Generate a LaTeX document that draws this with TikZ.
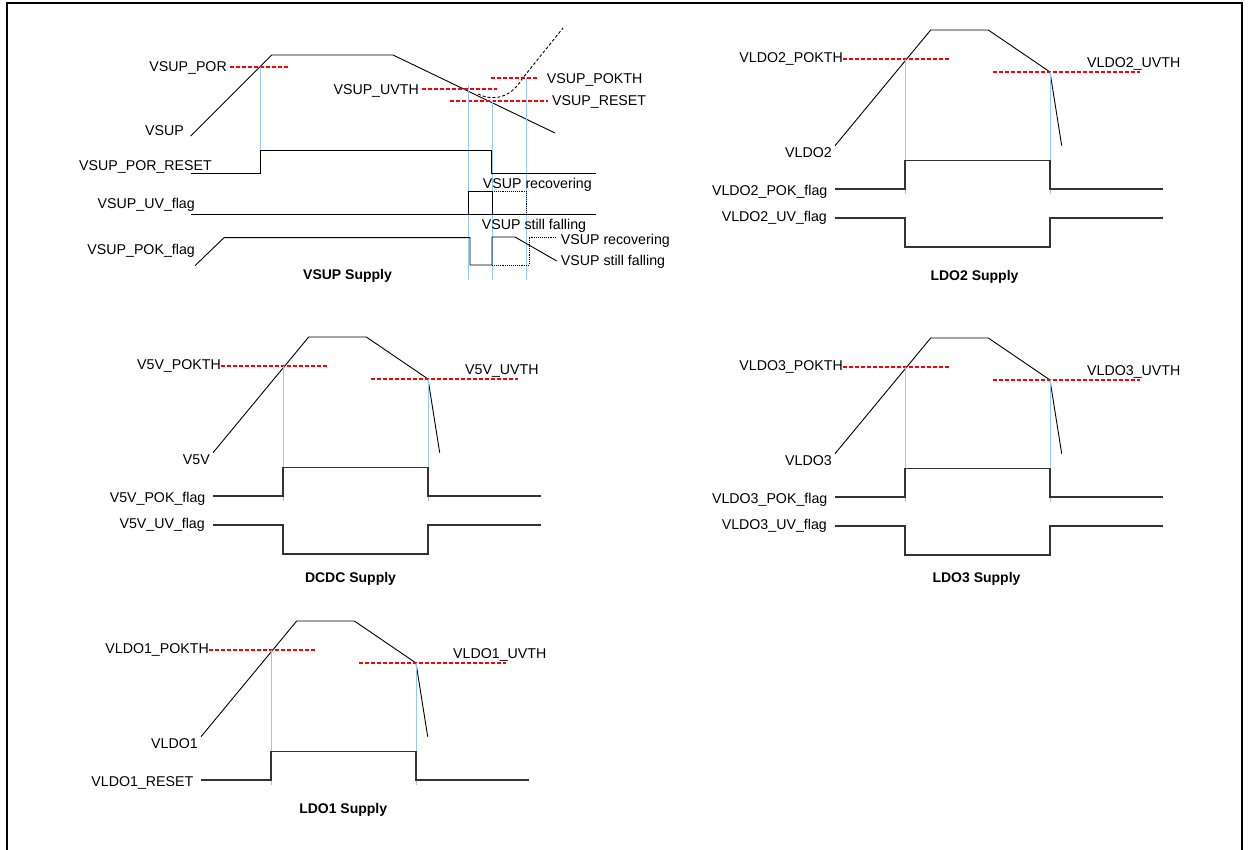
\documentclass[tikz,border=0pt]{standalone}
\usepackage{fontspec}
\setmainfont{Liberation Sans}
\newcommand\supply[3]{%
  \begin{scope}[shift={#1}]
    \draw[railline] (835,145.7) -- (930.7,30) -- (988.3,30) -- (1050,72) -- (1061.7,145.7);
    \coordinate (#2-on)  at (905,59);
    \coordinate (#2-off) at (1050,72);
    \draw[threshold] (843,59)   -- (950.7,59);
    \draw[threshold] (993.3,72) -- (1140,72);
    \draw[crossline] (#2-on)  -- ++(0,135.3);
    \draw[crossline] (#2-off) -- ++(0,122.3);
    \node[sigtext,anchor=east] (#2-pokth) at (843,57.3)   {#2\_POKTH};
    \node[sigtext,anchor=west] (#2-uvth)  at (1087,62.3)  {#2\_UVTH};
    \node[sigtext,anchor=east] (#2-name)  at (832,152.3)  {#2};
    \draw[flagline] (835,189) -- (#2-on |- 0,189) -- (#2-on |- 0,160.3)
                    -- (#2-off |- 0,160.3) -- (#2-off |- 0,189) -- (1163.3,189);
    \node[sigtext,anchor=east] (#2-flag)  at (827.5,190.7) {#2\_#3};
  \end{scope}}
\newcommand\uvflag[2]{%
  \begin{scope}[shift={#1}]
    \draw[flagline] (835,218) -- (905,218) -- (905,247) -- (1050,247) -- (1050,218) -- (1163.3,218);
    \node[sigtext,anchor=east] (#2-uv) at (827,216.7) {#2\_UV\_flag};
  \end{scope}}
\definecolor{crossblue}{RGB}{150,200,255}

\begin{document}
\begin{tikzpicture}[x=1pt,y=-1pt]

\tikzset{railline/.style={line width=0.9pt}}
\tikzset{flagline/.style={line width=1.1pt,black!80}}
\tikzset{threshold/.style={red,line width=2pt,dash pattern=on 4pt off 2pt}}
\tikzset{crossline/.style={crossblue,line width=1pt}}
\tikzset{sigtext/.style={inner sep=0pt,text height=10.2pt,text depth=0pt,font=\fontsize{14.2pt}{17pt}\selectfont}}
\tikzset{titletext/.style={inner sep=0pt,text height=10pt,text depth=0pt,font=\bfseries\fontsize{14pt}{17pt}\selectfont}}

\useasboundingbox (0,0) rectangle (1248,850);
\draw[line width=2pt] (7.3,880) -- (7.3,2.7) -- (1242.3,2.7) -- (1242.3,880);

% VSUP
\draw[railline] (190.7,136) -- (271.7,55) -- (393,55) -- (555,133);
\draw[railline,dash pattern=on 3pt off 2pt] (478,94) .. controls (492,101) and (510,99) .. (522,79) -- (563,28);
\coordinate (por)   at (260,67);
\coordinate (uv)    at (468,85);
\coordinate (reset) at (492,100);
\coordinate (pok)   at (526,78);
\draw[threshold] (230,67)   -- (289,67);
\draw[threshold] (421.7,89) -- (497,89);
\draw[threshold] (491,78)   -- (538,78);
\draw[threshold] (450,101)  -- (548,101);
\draw[crossline] (por) -- (por |- 0,150);
\draw[crossline] (uv) -- (uv |- 0,280);
\draw[crossline] (reset) -- (reset |- 0,280);
\draw[crossline] (pok) -- (pok |- 0,280);
\node[sigtext,anchor=east] (vsup-por)   at (227,66.7)   {VSUP\_POR};
\node[sigtext,anchor=east] (vsup-uvth)  at (419,89.3)   {VSUP\_UVTH};
\node[sigtext,anchor=west] (vsup-pokth) at (546.7,78.3) {VSUP\_POKTH};
\node[sigtext,anchor=west] (vsup-reset) at (552,100.7)  {VSUP\_RESET};
\node[sigtext,anchor=east] (vsup-name)  at (184,130)    {VSUP};
\node[sigtext,anchor=east] (vsup-porr)  at (212,165.7)  {VSUP\_POR\_RESET};
\node[sigtext,anchor=east] (vsup-uv)    at (195,203)    {VSUP\_UV\_flag};
\node[sigtext,anchor=east] (vsup-pok)   at (195,249.3)  {VSUP\_POK\_flag};
\draw[railline] (190.7,173.3) -- (por |- 0,173.3) -- (por |- 0,150) -- (491,150) -- (491,173.3) -- (596,173.3);
\draw[railline] (190.7,214.3) -- (596,214.3);
\draw[railline] (uv |- 0,214.3) -- (uv |- 0,191) -- (reset |- 0,191);
\draw[railline] (reset |- 0,191) -- (reset |- 0,214.3);
\draw[railline,densely dotted] (reset |- 0,191) -- (pok |- 0,191) -- (pok |- 0,214.3);
\draw[railline] (195,265.7) -- (224,237.7) -- (470,237.7) -- (470,265) -- (reset |- 0,265)
                -- (reset |- 0,237) -- (515,237) -- (556.7,261);
\draw[railline,densely dotted] (reset |- 0,265) -- (529,265) -- (529,237) -- (557,237);
\node[sigtext,anchor=west] (rec-a)  at (482.7,183.3) {VSUP recovering};
\node[sigtext,anchor=west] (fall-a) at (481.7,224)   {VSUP still falling};
\node[sigtext,anchor=west] (rec-b)  at (560.7,239.3) {VSUP recovering};
\node[sigtext,anchor=west] (fall-b) at (560.7,260)   {VSUP still falling};
\node[titletext,anchor=west] (vsup-title) at (303,275) {VSUP Supply};

% LDO2, LDO3, DCDC, LDO1
\supply{(0,0)}{VLDO2}{POK\_flag}
\uvflag{(0,0)}{VLDO2}
\node[titletext] (ldo2-title) at (974.5,276) {LDO2 Supply};

\supply{(0,308)}{VLDO3}{POK\_flag}
\uvflag{(0,308)}{VLDO3}
\node[titletext] (ldo3-title) at (976.5,577.3) {LDO3 Supply};

\supply{(-622,307)}{V5V}{POK\_flag}
\uvflag{(-622,307)}{V5V}
\node[titletext] (dcdc-title) at (350.5,577.3) {DCDC Supply};

\supply{(-634,591)}{VLDO1}{RESET}
\node[titletext] (ldo1-title) at (343.2,808.3) {LDO1 Supply};

\end{tikzpicture}
\end{document}
